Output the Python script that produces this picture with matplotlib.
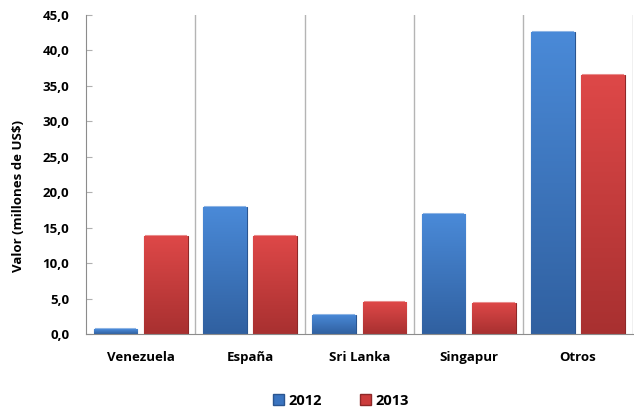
import numpy as np
import matplotlib
matplotlib.use("Agg")
import matplotlib.pyplot as plt
from matplotlib.ticker import FuncFormatter, MultipleLocator
from matplotlib.colors import LinearSegmentedColormap
from matplotlib.patches import Patch

# data
countries = ["Venezuela", "España", "Sri Lanka", "Singapur", "Otros"]
years = ["2012", "2013"]
values_2012 = [0.7, 17.9, 2.7, 16.9, 42.6]
values_2013 = [13.8, 13.8, 4.5, 4.4, 36.5]

plt.rcParams['font.family'] = ['Open Sans', 'DejaVu Sans']

fig = plt.figure(figsize=(6.34, 4.11), dpi=100)
ax = fig.add_axes([0.1356, 0.1873, 0.8624, 0.7762])

x = np.arange(len(countries))
width = 0.40
offset = 0.23

styles = {
    "2012": dict(top="#4a8ad8", bottom="#3060a0", edge="#2a5590", legend="#3a74c0"),
    "2013": dict(top="#de4848", bottom="#a83030", edge="#8e2828", legend="#cc3c3c"),
}

def gradient_bars(bars, st):
    cmap = LinearSegmentedColormap.from_list("g", [st["bottom"], st["top"]])
    grad = np.linspace(0, 1, 256).reshape(-1, 1)
    for b in bars:
        bx, by = b.get_x(), b.get_y()
        w, h = b.get_width(), b.get_height()
        im = ax.imshow(grad, cmap=cmap, aspect="auto", origin="lower",
                       extent=[bx, bx + w, by, by + h], zorder=2)
        im.set_clip_path(b)
        # light top highlight
        ax.plot([bx + 0.01, bx + w - 0.01], [by + h, by + h], color=st["top"],
                lw=1.5, alpha=0.6, zorder=3, solid_capstyle="butt")

for vals, yr, sign in [(values_2012, "2012", -1), (values_2013, "2013", 1)]:
    st = styles[yr]
    bars = ax.bar(x + sign * offset, vals, width, facecolor=st["bottom"],
                  edgecolor=st["edge"], linewidth=0.8, zorder=2)
    gradient_bars(bars, st)

ax.set_xlim(-0.5, len(countries) - 0.5)
ax.set_ylim(0, 45)
ax.yaxis.set_major_locator(MultipleLocator(5))
ax.yaxis.set_major_formatter(FuncFormatter(lambda v, p: f"{v:.1f}".replace(".", ",")))

# category separators
for b in np.arange(0.5, len(countries), 1.0):
    ax.axvline(b, color="#b4b4b4", lw=1.0, zorder=1)

ax.set_xticks(x)
ax.set_xticklabels(countries, fontsize=9.5, fontweight="bold")
ax.tick_params(axis="x", length=0, pad=12)
ax.tick_params(axis="y", direction="in", length=4, color="#b0b0b0",
               labelsize=9.5, pad=12)
for lbl in ax.get_yticklabels():
    lbl.set_fontweight("bold")

for s in ["top", "right"]:
    ax.spines[s].set_visible(False)
ax.spines["left"].set_color("#8c8c8c")
ax.spines["bottom"].set_color("#8c8c8c")

ax.set_ylabel("Valor (millones de US$)", fontsize=9.5, fontweight="bold")
ax.yaxis.set_label_coords(-0.1115, 0.433)

handles = [Patch(facecolor=styles[y]["legend"], edgecolor=styles[y]["edge"]) for y in years]
fig.legend(handles, years, loc="center", bbox_to_anchor=(0.538, 0.025),
           ncol=2, frameon=False, prop=dict(weight="bold", size=10.5),
           handlelength=0.75, handleheight=0.75, handletextpad=0.3, columnspacing=2.6)

fig.savefig("out.png", dpi=100)
